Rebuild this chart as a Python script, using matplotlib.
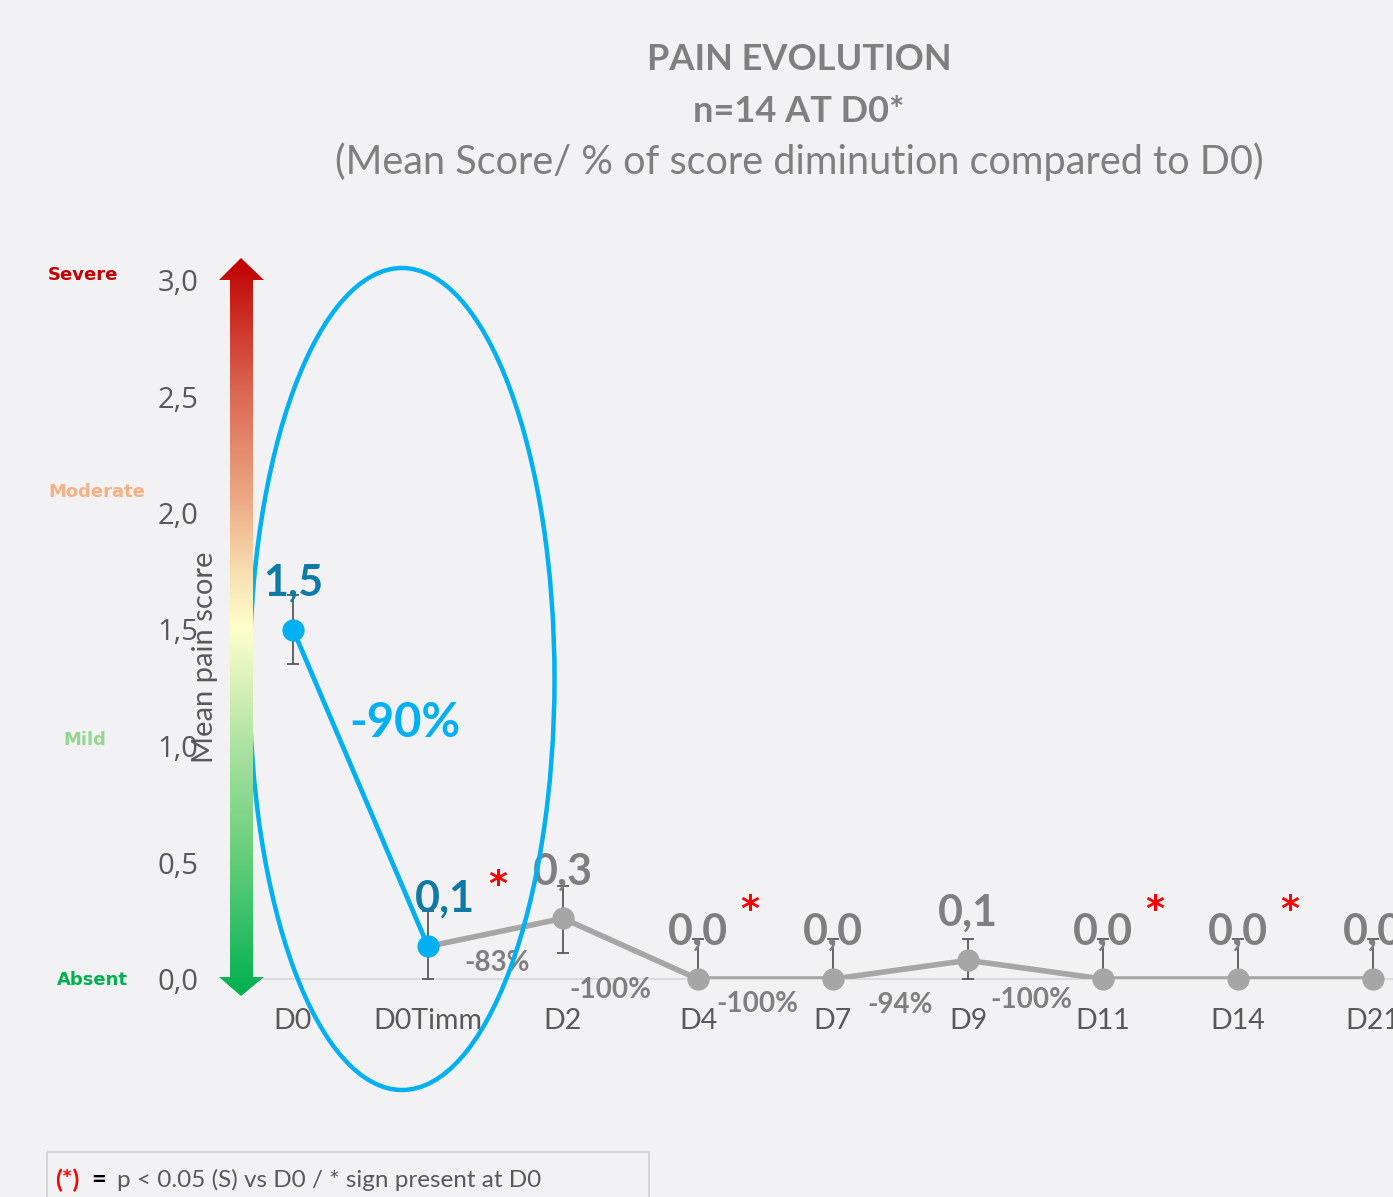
import numpy as np
import matplotlib
matplotlib.use("Agg")
import matplotlib.pyplot as plt
from matplotlib.colors import LinearSegmentedColormap
from matplotlib.patches import Polygon, Ellipse, Rectangle

# ---------------- data ----------------
categories = ['D0', 'D0Timm', 'D2', 'D4', 'D7', 'D9', 'D11', 'D14', 'D21']
mean_scores = [1.50, 0.14, 0.26, 0.0, 0.0, 0.08, 0.0, 0.0, 0.0]
err_low = [0.15, 0.14, 0.15, 0.0, 0.0, 0.08, 0.0, 0.0, 0.0]
err_high = [0.15, 0.15, 0.14, 0.17, 0.17, 0.09, 0.17, 0.17, 0.17]
significant = [False, True, False, True, False, False, True, True, False]
pct_labels = ['-90%', '-83%', '-100%', '-100%', '-94%', '-100%']
yticks = [0.0, 0.5, 1.0, 1.5, 2.0, 2.5, 3.0]
levels = ['Severe', 'Moderate', 'Mild', 'Absent']

# ---------------- styling ----------------
BG = '#F2F2F4'
BLUE = '#00B0F0'
DARKBLUE = '#0F7AA6'
GRAY = '#A6A6A6'
LABELGRAY = '#7F7F7F'
TICKGRAY = '#595959'

W, H = 1393, 1197
fig = plt.figure(figsize=(W / 100, H / 100), dpi=100, facecolor=BG)

# main axes: px geometry
ax_l, ax_r, ax_b, ax_t = 240, 1393, 979, 280
ax = fig.add_axes([ax_l / W, (H - ax_b) / H, (ax_r - ax_l) / W, (ax_b - ax_t) / H])
ax.set_facecolor(BG)
x0px, dxpx = 293, 135
ax.set_xlim((ax_l - x0px) / dxpx, (ax_r - x0px) / dxpx)
ax.set_ylim(0, 3)
for s in ['top', 'right', 'left']:
    ax.spines[s].set_visible(False)
ax.spines['bottom'].set_color('#D9D9D9')
ax.spines['bottom'].set_linewidth(1.3)

x = np.arange(len(categories))
ax.set_xticks(x)
ax.set_xticklabels(categories, family='Lato', fontsize=20.5, color=TICKGRAY)
ax.set_yticks(yticks)
ax.set_yticklabels([f"{v:.1f}".replace('.', ',') for v in yticks],
                   family='Open Sans', fontsize=21, color=TICKGRAY)
ax.tick_params(axis='both', length=0)
ax.tick_params(axis='y', pad=30)
ax.tick_params(axis='x', pad=21)

ax.set_ylabel('Mean pain score', family='Lato', fontsize=21, color=TICKGRAY)
ax.yaxis.set_label_coords(-0.019, 0.46)

# lines
ax.plot(x[1:], mean_scores[1:], color=GRAY, lw=4, zorder=3, solid_capstyle='round')
ax.plot(x[:2], mean_scores[:2], color=BLUE, lw=3.4, zorder=4, solid_capstyle='round')
# error bars
ax.errorbar(x, mean_scores, yerr=[err_low, err_high], fmt='none', ecolor=TICKGRAY,
            elinewidth=1.3, capsize=4.5, capthick=1.3, zorder=5, clip_on=False)
# markers
ax.plot(x[2:], mean_scores[2:], 'o', color=GRAY, ms=15, zorder=6, clip_on=False)
ax.plot(x[:2], mean_scores[:2], 'o', color=BLUE, ms=15, zorder=6)

# value labels
for i, v in enumerate(mean_scores):
    col = DARKBLUE if i < 2 else LABELGRAY
    dx = 12 if i == 1 else 0
    ax.annotate(f"{v:.1f}".replace('.', ','), (x[i], v), xytext=(dx, 34),
                textcoords='offset points', ha='center', va='center',
                family='Lato', fontweight='bold', fontsize=31, color=col,
                zorder=8, annotation_clip=False)

# percentage labels (placed between points)
pct_pos = [(0.83, 1.10), (1.51, 0.069), (2.35, -0.047), (3.44, -0.107),
           (4.50, -0.112), (5.47, -0.09)]
for i, (lbl, (px, py)) in enumerate(zip(pct_labels, pct_pos)):
    if i == 0:
        ax.text(px, py, lbl, ha='center', va='center', family='Lato', fontweight='bold',
                fontsize=34, color=BLUE, zorder=8, clip_on=False)
    else:
        ax.text(px, py, lbl, ha='center', va='center', family='Lato', fontweight='bold',
                fontsize=20, color=LABELGRAY, zorder=8, clip_on=False)

# significance stars
for i, sig in enumerate(significant):
    if sig:
        off = (50, 44) if i == 1 else (37, 50)
        ax.annotate('*', (x[i], mean_scores[i]), xytext=off, textcoords='offset points',
                    ha='center', va='center', family='DejaVu Sans', fontweight='bold',
                    fontsize=26, color='#FF0000', zorder=8, annotation_clip=False)

# ellipse highlighting D0 -> D0Timm
ell = Ellipse(((402 - x0px) / dxpx, (ax_b - 679) / 233.0), 305 / dxpx, 822 / 233.0,
              fill=False, edgecolor=BLUE, lw=3.2, zorder=9, clip_on=False)
ax.add_patch(ell)

# ---------------- overlay (pixel coords) ----------------
ov = fig.add_axes([0, 0, 1, 1], facecolor='none')
ov.set_xlim(0, W)
ov.set_ylim(H, 0)
ov.axis('off')

# gradient arrow
cmap = LinearSegmentedColormap.from_list('pain', [
    (0.0, '#00B050'), (0.17, '#5CCB78'), (0.33, '#A8E19F'), (0.45, '#E6F6C3'),
    (0.5, '#FFFFCC'), (0.58, '#F7DDAE'), (0.67, '#EDAB88'), (0.83, '#D9634E'),
    (1.0, '#C00000')])
grad = np.linspace(1, 0, 256).reshape(-1, 1)
img = ov.imshow(grad, cmap=cmap, extent=(219, 265, 997, 258), aspect='auto', zorder=1)
arrow = Polygon([(241, 258), (264, 280), (253, 280), (253, 977), (264, 977), (241, 996),
                 (219, 977), (230, 977), (230, 280), (219, 280)], closed=True,
                transform=ov.transData, facecolor='none', edgecolor='none')
ov.add_patch(arrow)
img.set_clip_path(arrow)

# level labels
level_pos = [(83, 275), (97, 492), (85, 740), (92, 980)]
level_cols = ['#C00000', '#F4B183', '#92D88F', '#00B050']
for lbl, (px, py), c in zip(levels, level_pos, level_cols):
    ov.text(px, py, lbl, ha='center', va='center', family='DejaVu Sans',
            fontweight='bold', fontsize=13, color=c)

# title
ov.text(799, 60, 'PAIN EVOLUTION', ha='center', va='center', family='Lato',
        fontweight='bold', fontsize=26, color=LABELGRAY)
ov.text(799, 112, 'n=14 AT D0*', ha='center', va='center', family='Lato',
        fontweight='bold', fontsize=26, color=LABELGRAY)
ov.text(799, 162, '(Mean Score/ % of score diminution compared to D0)', ha='center',
        va='center', family='Lato', fontsize=28.5, color=LABELGRAY)

# footnote box
ov.add_patch(Rectangle((47, 1152), 602, 60, facecolor='none', edgecolor='#D0D0D0', lw=1.2))
ov.text(55, 1180, '(*)', ha='left', va='center', family='Lato', fontweight='bold',
        fontsize=18, color='#FF0000')
ov.text(91, 1180, '=', ha='left', va='center', family='Lato', fontweight='bold',
        fontsize=18, color='black')
ov.text(117, 1180, 'p < 0.05 (S) vs D0 / * sign present at D0', ha='left', va='center',
        family='Lato', fontsize=17.5, color=TICKGRAY)

fig.savefig('out.png', dpi=100, facecolor=BG)
